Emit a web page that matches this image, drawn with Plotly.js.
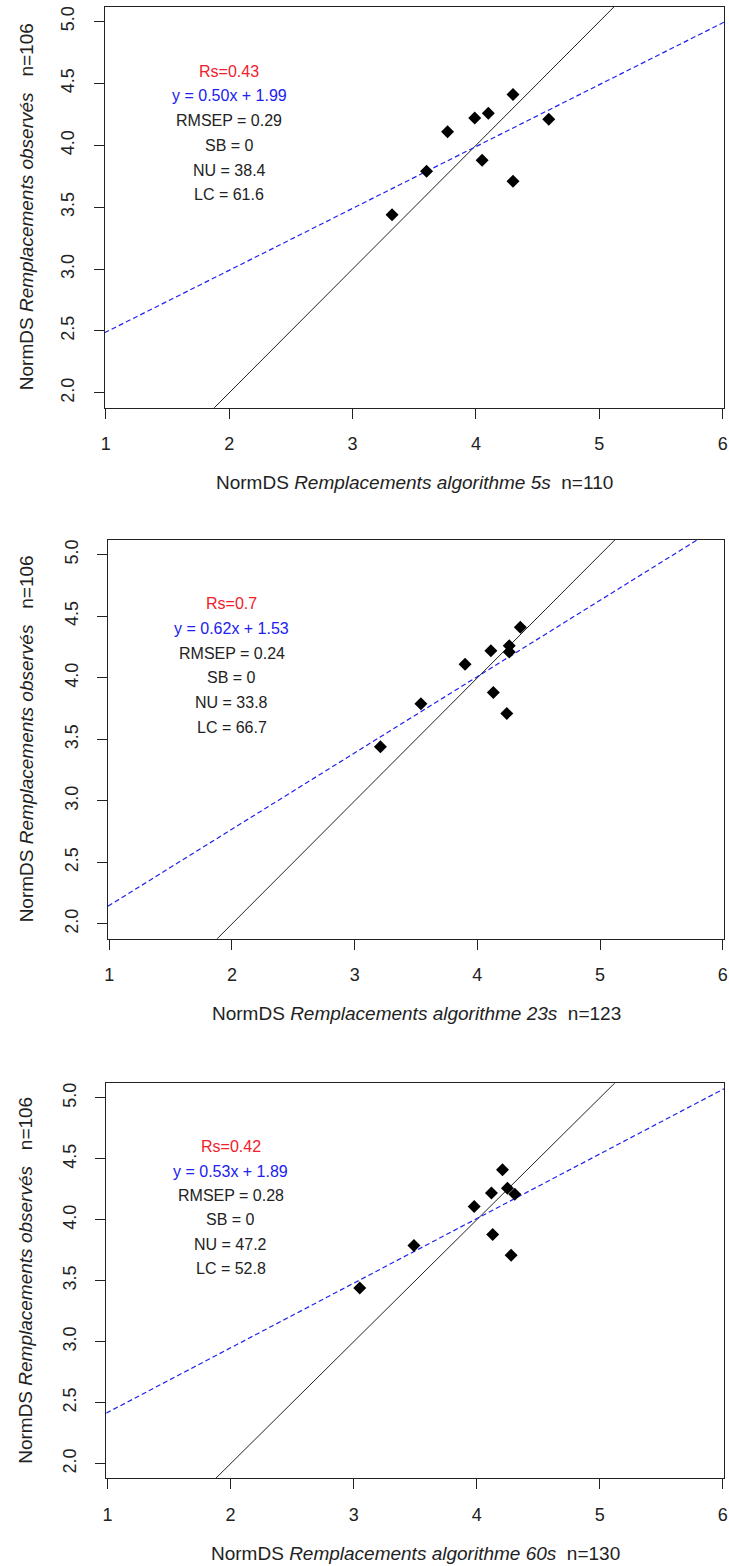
<!DOCTYPE html>
<html>
<head>
<meta charset="utf-8">
<script src="https://cdn.plot.ly/plotly-3.0.1.min.js"></script>
<style>
  html, body { margin: 0; padding: 0; background: #fff; }
  #chart { width: 729px; height: 1566px; }
</style>
</head>
<body>
<div id="chart"></div>
<script>
// ---- Data ----
const observed = [3.44, 3.79, 4.11, 4.22, 4.26, 4.41, 4.21, 3.88, 3.71];
const algo5s  = [3.32, 3.60, 3.77, 3.99, 4.10, 4.30, 4.59, 4.05, 4.30];
const algo23s = [3.21, 3.54, 3.90, 4.11, 4.26, 4.35, 4.26, 4.13, 4.24];
const algo60s = [3.05, 3.49, 3.98, 4.12, 4.25, 4.21, 4.31, 4.13, 4.28];

const panelNames = ['5s', '23s', '60s'];
const panelN = [110, 123, 130];
const observedN = 106;
const rsValues = ['0.43', '0.7', '0.42'];
const slopes = [0.50, 0.62, 0.53];
const intercepts = [1.99, 1.53, 1.89];
const rmsepValues = ['0.29', '0.24', '0.28'];
const sbValues = ['0', '0', '0'];
const nuValues = ['38.4', '33.8', '47.2'];
const lcValues = ['61.6', '66.7', '52.8'];
const yTickVals = [2.0, 2.5, 3.0, 3.5, 4.0, 4.5, 5.0];
const xTickVals = [1, 2, 3, 4, 5, 6];

// ---- Layout geometry (pixels in a 729x1566 page) ----
const W = 729, H = 1566;
const FONT = '"Liberation Sans", Arial, Helvetica, sans-serif';
const frames = [
  {l: 104.5, r: 724, t: 6.7, b: 407.7},
  {l: 108.0, r: 724, t: 540.0, b: 938.7},
  {l: 106.3, r: 724, t: 1083.3, b: 1478.3}
];
const xRange = [0.99, 6.01];
const yRange = [1.88, 5.12];

const xSeries = [algo5s, algo23s, algo60s];
const traces = [];
const layout = {
  width: W, height: H,
  margin: {l: 0, r: 0, t: 0, b: 0},
  paper_bgcolor: '#fff', plot_bgcolor: '#fff',
  showlegend: false,
  font: {family: FONT, color: '#222'},
  annotations: []
};

const nb = '\u00A0';

frames.forEach((f, i) => {
  const k = i === 0 ? '' : String(i + 1);
  const xa = 'x' + k, ya = 'y' + k;
  const axCommon = {
    showgrid: false, zeroline: false,
    showline: true, mirror: true, linecolor: '#222', linewidth: 1,
    ticks: 'outside', ticklen: 10, tickwidth: 1, tickcolor: '#222',
    tickfont: {family: FONT, size: 18, color: '#222'},
    fixedrange: true
  };
  layout['xaxis' + k] = Object.assign({}, axCommon, {
    domain: [f.l / W, f.r / W],
    anchor: ya,
    range: xRange,
    tickvals: xTickVals,
    ticktext: xTickVals.map(String),
    ticklabelstandoff: 10
  });
  layout['yaxis' + k] = Object.assign({}, axCommon, {
    domain: [1 - f.b / H, 1 - f.t / H],
    anchor: xa,
    range: yRange,
    tickvals: yTickVals,
    ticktext: yTickVals.map(v => v.toFixed(1)),
    tickangle: -90,
    ticklabelstandoff: 12
  });

  // 1:1 line
  traces.push({
    x: xRange, y: xRange, xaxis: xa, yaxis: ya,
    mode: 'lines', type: 'scatter', hoverinfo: 'skip',
    line: {color: '#222', width: 1}
  });
  // regression line
  traces.push({
    x: xRange, y: xRange.map(v => slopes[i] * v + intercepts[i]),
    xaxis: xa, yaxis: ya,
    mode: 'lines', type: 'scatter', hoverinfo: 'skip',
    line: {color: '#2020f0', width: 1.2, dash: '5px,3px'}
  });
  // points
  traces.push({
    x: xSeries[i], y: observed, xaxis: xa, yaxis: ya,
    mode: 'markers', type: 'scatter',
    marker: {symbol: 'diamond', size: 10, color: '#000'}
  });

  // stats text block
  const lines = [
    {t: 'Rs=' + rsValues[i], c: '#f0202a'},
    {t: 'y = ' + slopes[i].toFixed(2) + 'x + ' + intercepts[i].toFixed(2), c: '#2020f0'},
    {t: 'RMSEP = ' + rmsepValues[i], c: '#222'},
    {t: 'SB = ' + sbValues[i], c: '#222'},
    {t: 'NU = ' + nuValues[i], c: '#222'},
    {t: 'LC = ' + lcValues[i], c: '#222'}
  ];
  lines.forEach((ln, j) => {
    layout.annotations.push({
      xref: xa, yref: ya, x: 2, y: 4.6 - 0.2 * j,
      text: ln.t, showarrow: false, xanchor: 'center', yanchor: 'middle',
      font: {family: FONT, size: 16, color: ln.c}
    });
  });

  // x axis title
  layout.annotations.push({
    xref: 'paper', yref: 'paper',
    x: ((f.l + f.r) / 2) / W, y: 1 - (f.b + 75) / H,
    xanchor: 'center', yanchor: 'middle', showarrow: false,
    text: 'NormDS <i>Remplacements algorithme ' + panelNames[i] + '</i>' + nb + nb + 'n=' + panelN[i],
    font: {family: FONT, size: 19, color: '#222'}
  });
  // y axis title
  layout.annotations.push({
    xref: 'paper', yref: 'paper',
    x: 26 / W, y: 1 - ((f.t + f.b) / 2) / H,
    xanchor: 'center', yanchor: 'middle', showarrow: false, textangle: -90,
    text: 'NormDS <i>Remplacements observés</i>' + nb + nb + nb + 'n=' + observedN,
    font: {family: FONT, size: 19, color: '#222'}
  });
});

Plotly.newPlot('chart', traces, layout, {staticPlot: true, displayModeBar: false});
</script>
</body>
</html>
